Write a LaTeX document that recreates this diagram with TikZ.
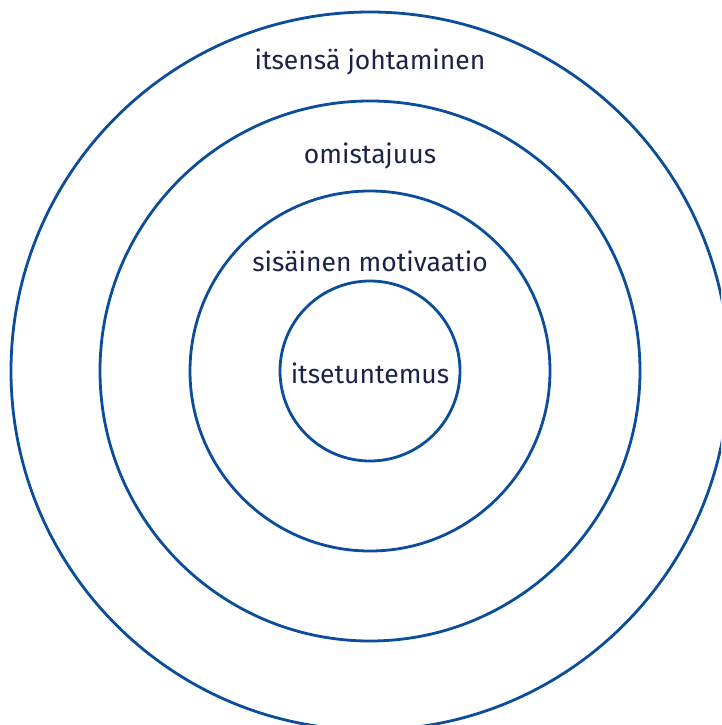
\documentclass[tikz,border=0pt]{standalone}
\usepackage{fontspec}
\setmainfont{Fira Sans}
\definecolor{ringblue}{HTML}{0B4C9B}
\definecolor{txtnavy}{HTML}{1B2447}
\begin{document}
\begin{tikzpicture}[x=1pt,y=-1pt,
  ring/.style={draw=ringblue,line width=2.8pt},
  lbl/.style={text=txtnavy,font=\fontsize{26.5}{30}\selectfont,inner sep=0pt}]
\useasboundingbox (0,0) rectangle (721,725);
\clip (0,0) rectangle (721,725);
\coordinate (c) at (370,371);
\node[ring,circle,minimum size=718pt,inner sep=0pt] (r4) at (c) {};
\node[ring,circle,minimum size=540pt,inner sep=0pt] (r3) at (c) {};
\node[ring,circle,minimum size=360pt,inner sep=0pt] (r2) at (c) {};
\node[ring,circle,minimum size=180pt,inner sep=0pt] (r1) at (c) {};
\node[lbl] (t4) at (370,62) {itsensä johtaminen};
\node[lbl] (t3) at (370,156) {omistajuus};
\node[lbl] (t2) at (370,261) {sisäinen motivaatio};
\node[lbl] (t1) at (370,373) {itsetuntemus};
\end{tikzpicture}
\end{document}
